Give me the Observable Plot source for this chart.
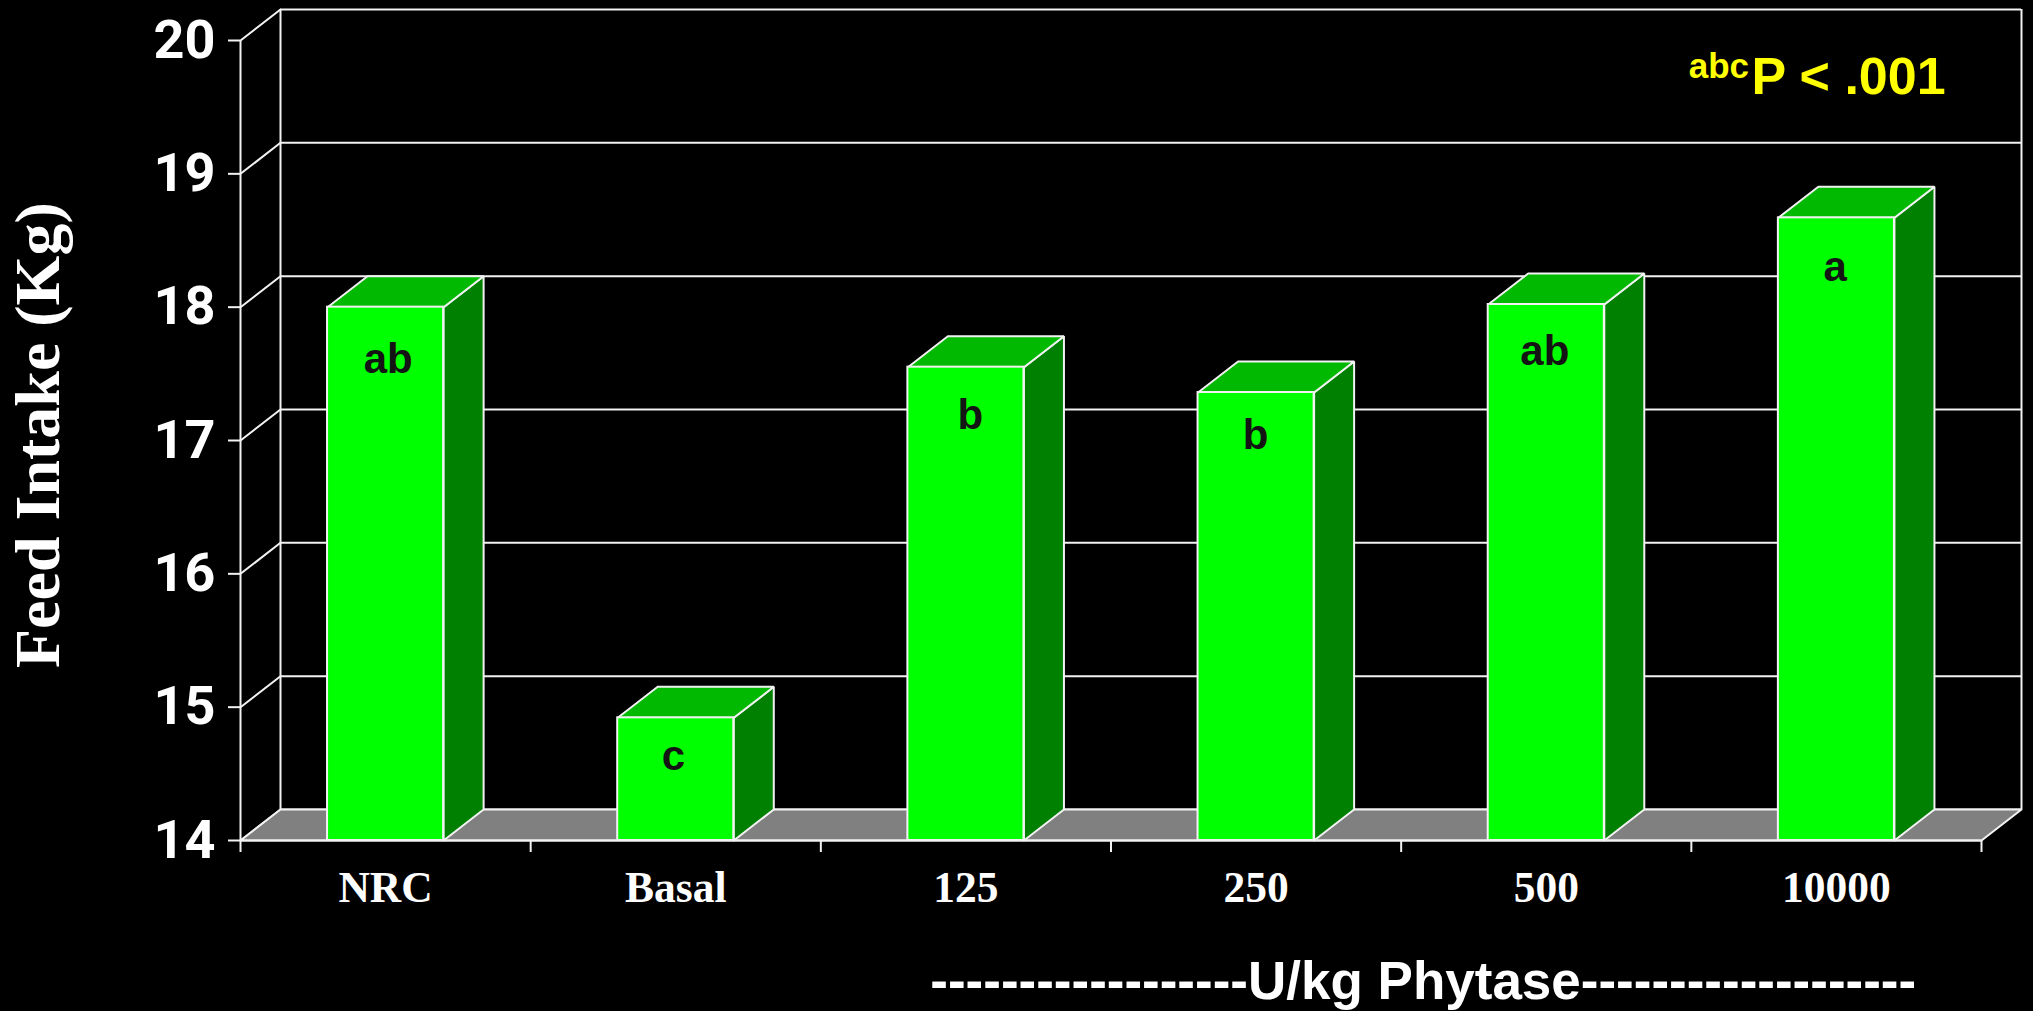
<!DOCTYPE html>
<html>
<head>
<meta charset="utf-8">
<style>html,body{margin:0;padding:0;background:#000;overflow:hidden}svg{display:block}</style>
<script src="https://cdn.jsdelivr.net/npm/d3@7"></script>
<script src="https://cdn.jsdelivr.net/npm/@observablehq/plot@0.6"></script>
</head>
<body>
<div id="chart"></div>
<script>
const categories = ["NRC", "Basal", "125", "250", "500", "10000"];
const feedIntake = [18.0, 14.92, 17.55, 17.36, 18.02, 18.67];
const letters = ["ab", "c", "b", "b", "ab", "a"];
const letterLevels = [17.61, 14.63, 17.19, 17.04, 17.67, 18.3];
const letterSlots = [0.509, 1.492, 2.515, 3.498, 4.495, 5.496];
const yTicks = [14, 15, 16, 17, 18, 19, 20];
const slots = [0, 1, 2, 3, 4, 5, 6];

// 3D construction expressed in the units of the chart's scales
const depthX = 40 / 290.17;
const depthY = 31 / 133.33;
const barInset = 0.3;
const yBase = 14, yTop = 20;

const bars = categories.map((name, i) => ({
  name, value: feedIntake[i], letter: letters[i], level: letterLevels[i], slot: letterSlots[i],
  x1: i + barInset, x2: i + 1 - barInset
}));

function polygon(id, corners) {
  return [...corners, corners[0]].map(([x, y]) => ({id, x, y}));
}
const floor = polygon("floor", [[0, yBase], [6, yBase], [6 + depthX, yBase + depthY], [depthX, yBase + depthY]]);
const sideFaces = bars.flatMap((b) => polygon("side" + b.name, [
  [b.x2, yBase], [b.x2 + depthX, yBase + depthY], [b.x2 + depthX, b.value + depthY], [b.x2, b.value]
]));
const topFaces = bars.flatMap((b) => polygon("top" + b.name, [
  [b.x1, b.value], [b.x2, b.value], [b.x2 + depthX, b.value + depthY], [b.x1 + depthX, b.value + depthY]
]));
const wallLeft = yTicks.flatMap((t) => polygon("left" + t, [[0, t], [depthX, t + depthY]]).slice(0, 2));
const serif = "'Liberation Serif', serif";
const sans = "'Liberation Sans', sans-serif";
const edge = "#f2f2f2";

const chart = Plot.plot({
  width: 2033,
  height: 1011,
  marginLeft: 240,
  marginRight: 52,
  marginTop: 40,
  marginBottom: 171,
  style: {background: "#000", color: "#fff"},
  x: {domain: [0, 6], range: [240, 1981]},
  y: {domain: [yBase, yTop], range: [840, 40]},
  marks: [
    // walls
    Plot.ruleY(yTicks, {x1: depthX, x2: 6 + depthX, y: (d) => d + depthY, stroke: edge, strokeWidth: 2}),
    Plot.ruleX([depthX, 6 + depthX], {y1: yBase + depthY, y2: yTop + depthY, stroke: edge, strokeWidth: 2}),
    Plot.line(wallLeft, {x: "x", y: "y", z: "id", stroke: edge, strokeWidth: 2}),
    Plot.line(floor, {x: "x", y: "y", z: "id", fill: "#808080", stroke: edge, strokeWidth: 2}),
    Plot.ruleX([0], {y1: yBase, y2: yTop, stroke: edge, strokeWidth: 2}),
    // bars
    Plot.line(sideFaces, {x: "x", y: "y", z: "id", fill: "#008000", stroke: edge, strokeWidth: 2, strokeLinejoin: "miter"}),
    Plot.line(topFaces, {x: "x", y: "y", z: "id", fill: "#00b900", stroke: edge, strokeWidth: 2, strokeLinejoin: "miter"}),
    Plot.rectY(bars, {x1: "x1", x2: "x2", y1: yBase, y2: "value", fill: "#00ff00", stroke: edge, strokeWidth: 2}),
    Plot.ruleY([yBase], {x1: 0, x2: 6, stroke: edge, strokeWidth: 2}),
    // axes
    Plot.axisY({
      ticks: yTicks, tickSize: 12, tickPadding: 13, label: null, stroke: edge, strokeWidth: 2,
      tickFormat: (d) => String(d), fontFamily: "Roboto, sans-serif", fontWeight: 700, fontSize: 54, color: "#fff"
    }),
    Plot.axisX({ticks: slots, tickSize: 12, tickFormat: () => "", label: null, stroke: edge, strokeWidth: 2}),
    Plot.axisX({
      ticks: slots.slice(0, 6).map((d) => d + 0.5), tickSize: 0, tickPadding: 31, label: null,
      tickFormat: (d) => categories[Math.floor(d)], fontFamily: serif, fontWeight: 700, fontSize: 43.5, color: "#fff"
    }),
    // annotations
    Plot.text(bars, {
      x: "slot", y: "level", text: "letter",
      fontFamily: sans, fontWeight: 700, fontSize: 42, fill: "#141414"
    }),
    Plot.text(["Feed Intake (Kg)"], {
      x: [-0.696], y: [17.04], text: (d) => d, rotate: -90,
      fontFamily: serif, fontWeight: 700, fontSize: 64, fill: "#fff"
    }),
    Plot.text(["------------------U/kg Phytase-------------------"], {
      x: [4.076], y: [12.94], text: (d) => d,
      fontFamily: sans, fontWeight: 700, fontSize: 53, fill: "#fff"
    }),
    Plot.text(["P < .001"], {
      x: [5.207], y: [19.727], text: (d) => d, textAnchor: "start",
      fontFamily: sans, fontWeight: 700, fontSize: 52, fill: "#ffff00"
    }),
    Plot.text(["abc"], {
      x: [4.991], y: [19.805], text: (d) => d, textAnchor: "start",
      fontFamily: sans, fontWeight: 700, fontSize: 35, fill: "#ffff00"
    })
  ]
});
document.getElementById("chart").appendChild(chart);
</script>
</body>
</html>
